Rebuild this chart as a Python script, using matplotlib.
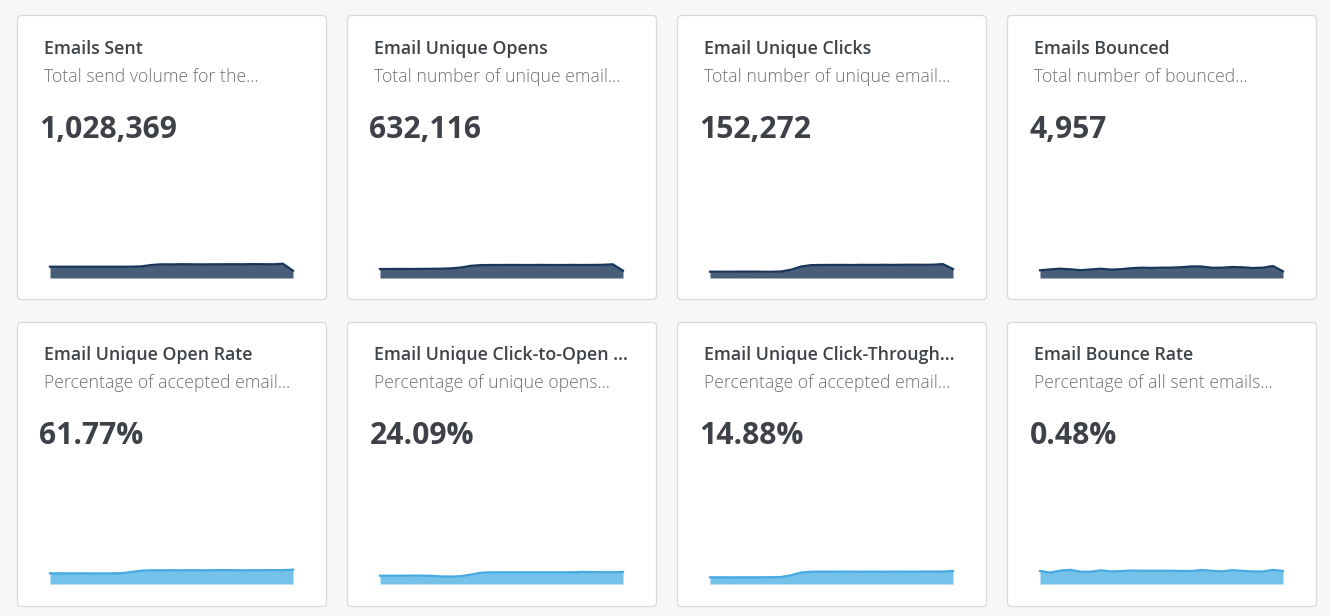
import numpy as np
import matplotlib
matplotlib.use("Agg")
import matplotlib.pyplot as plt
from matplotlib.patches import FancyBboxPatch

plt.rcParams["font.family"] = ["Open Sans", "DejaVu Sans"]

titles = [
    "Emails Sent", "Email Unique Opens", "Email Unique Clicks", "Emails Bounced",
    "Email Unique Open Rate", "Email Unique Click-to-Open ...",
    "Email Unique Click-Through...", "Email Bounce Rate",
]
subtitles = [
    "Total send volume for the...", "Total number of unique email...",
    "Total number of unique email...", "Total number of bounced...",
    "Percentage of accepted email...", "Percentage of unique opens...",
    "Percentage of accepted email...", "Percentage of all sent emails...",
]
values = ["1,028,369", "632,116", "152,272", "4,957",
          "61.77%", "24.09%", "14.88%", "0.48%"]

# daily trend, relative height of each sparkline
sent_trend = [11.3, 11.3, 11.3, 11.3, 11.3, 11.3, 11.3, 11.3, 11.3, 11.6, 13.0, 13.7,
              13.6, 13.8, 13.7, 13.6, 13.7, 13.7, 13.8, 13.7, 13.9, 13.8, 13.7, 14.3, 7.3]
opens_trend = [9.0, 9.0, 9.1, 9.0, 9.1, 9.2, 9.3, 9.6, 10.5, 12.2, 12.9, 13.0,
               13.0, 13.1, 13.0, 13.0, 13.1, 13.0, 13.0, 13.1, 13.0, 13.1, 13.2, 13.7, 7.3]
clicks_trend = [6.3, 6.3, 6.3, 6.4, 6.4, 6.3, 6.2, 6.5, 8.3, 11.5, 12.9, 13.0,
                13.1, 13.1, 13.0, 13.2, 13.1, 13.2, 13.1, 13.2, 13.3, 13.2, 13.3, 13.9, 9.0]
bounced_trend = [7.7, 8.6, 9.3, 8.7, 7.8, 8.5, 9.3, 8.4, 8.8, 9.8, 10.3, 10.1,
                 10.3, 10.4, 10.8, 11.6, 11.5, 10.2, 10.3, 11.0, 10.7, 10.0, 10.3, 12.0, 6.7]
open_rate_trend = [10.7, 10.7, 10.6, 10.7, 10.6, 10.6, 10.6, 10.8, 11.9, 13.3, 13.7, 13.7,
                   13.8, 13.7, 13.8, 13.7, 13.8, 13.9, 13.8, 13.7, 13.8, 13.8, 13.9, 13.9, 14.3]
cto_rate_trend = [8.3, 8.3, 8.3, 8.4, 8.4, 8.2, 7.6, 7.4, 7.8, 9.5, 11.3, 11.7,
                  11.7, 11.7, 11.7, 11.7, 11.7, 11.7, 11.7, 11.7, 12.1, 11.9, 11.8, 11.8, 12.0]
ctr_trend = [6.7, 6.7, 6.6, 6.7, 6.7, 6.7, 6.8, 7.0, 8.7, 11.5, 12.3, 12.3,
             12.3, 12.4, 12.3, 12.3, 12.4, 12.3, 12.3, 12.4, 12.3, 12.4, 12.4, 12.5, 13.0]
bounce_rate_trend = [13.0, 11.5, 13.4, 14.2, 12.3, 12.2, 13.7, 12.6, 12.9, 13.4, 13.3, 13.3,
                     13.3, 13.2, 13.0, 13.0, 14.0, 13.2, 12.7, 13.8, 13.1, 12.6, 12.5, 14.1, 13.0]

trends = [sent_trend, opens_trend, clicks_trend, bounced_trend,
          open_rate_trend, cto_rate_trend, ctr_trend, bounce_rate_trend]

W, H = 1330, 616
fig = plt.figure(figsize=(W / 100, H / 100), dpi=100)
fig.patch.set_facecolor("#f6f7f9")

bg = fig.add_axes([0, 0, 1, 1])
bg.set_xlim(0, W)
bg.set_ylim(H, 0)
bg.axis("off")

col_x = [17, 347, 677, 1007]
row_y = [15, 322]
card_w, card_h = 310, 285

line_colors = ["#17365a", "#45a9e2"]
fill_colors = ["#485e79", "#74c1ea"]

for k in range(8):
    r, c = divmod(k, 4)
    x0, y0 = col_x[c], row_y[r]
    ty = y0 - 1.5 * r  # second row text sits a touch higher

    card = FancyBboxPatch((x0 + 0.5, y0 + 0.5), card_w - 1, card_h - 1,
                          boxstyle="round,pad=0,rounding_size=4",
                          facecolor="white", edgecolor="#dadada", linewidth=0.9)
    bg.add_patch(card)

    bg.text(x0 + 27.5, ty + 39.5, titles[k], fontsize=12.8, fontweight="semibold",
            color="#3e4348", va="baseline", ha="left")
    bg.text(x0 + 27.5, ty + 67, subtitles[k], fontsize=12.7, fontweight="light",
            color="#737070", va="baseline", ha="left")
    bg.text(x0 + 22.5, ty + 123, values[k], fontsize=21.7, fontweight="bold",
            color="#3e4248", va="baseline", ha="left")

    # sparkline
    base = y0 + 263 - r
    left = x0 + 33
    ax = fig.add_axes([left / W, (H - base) / H, 243 / W, 30 / H])
    vals = np.array(trends[k])
    xs = np.arange(len(vals))
    ax.fill_between(xs, 0, vals, color=fill_colors[r], linewidth=0)
    ax.plot(xs, vals, color=line_colors[r], linewidth=1.6, clip_on=False,
            solid_joinstyle="round")
    ax.set_xlim(0, len(vals) - 1)
    ax.set_ylim(0, 30)
    ax.axis("off")

fig.savefig("out.png", dpi=100, facecolor=fig.get_facecolor())
